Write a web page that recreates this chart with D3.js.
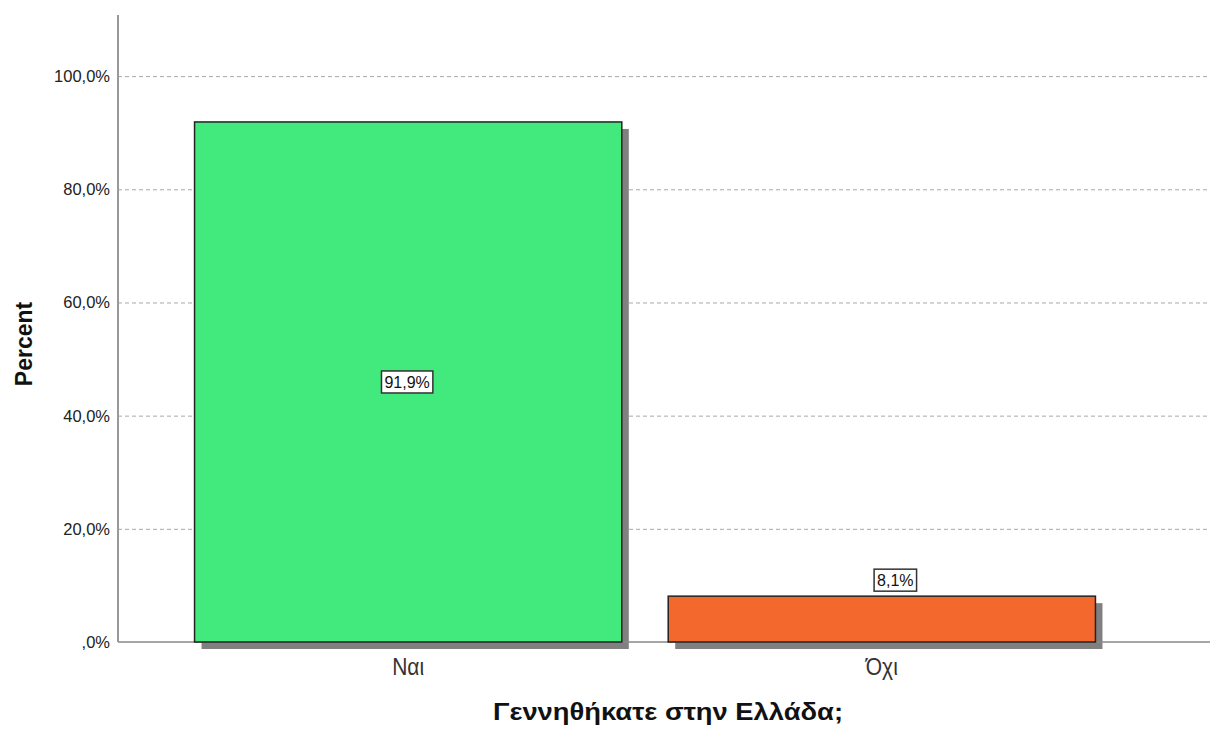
<!DOCTYPE html>
<html>
<head>
<meta charset="utf-8">
<script src="https://cdn.jsdelivr.net/npm/d3@7"></script>
<style>
html,body{margin:0;padding:0;background:#fff;}
svg{display:block;}
</style>
</head>
<body>
<svg id="chart" width="1221" height="729"></svg>
<script>
const categories = ["Ναι", "Όχι"];
const percents = [91.9, 8.1];
const barColors = ["#42ea7e", "#f3682c"];
const yTicks = [0, 20, 40, 60, 80, 100];
const xTitle = "Γεννηθήκατε στην Ελλάδα;";
const yTitle = "Percent";

const svg = d3.select("#chart");
const axisX = 118, baseY = 642, topY = 15, rightX = 1210;
const FONT = "Arial, 'Liberation Sans', sans-serif";

const x = d3.scaleBand().domain(categories).range([118, 1172]).paddingInner(0.098).paddingOuter(0.1616);
const y = d3.scaleLinear().domain([0, 110.8]).range([baseY, topY]);

const fmt = v => v === 0 ? ",0%" : v.toFixed(1).replace(".", ",") + "%";

// gridlines
svg.append("g").selectAll("line").data(yTicks.filter(d => d > 0)).join("line")
  .attr("x1", axisX).attr("x2", rightX)
  .attr("y1", d => y(d) + 0.5).attr("y2", d => y(d) + 0.5)
  .attr("stroke", "#a8a8a8").attr("stroke-width", 1).attr("stroke-dasharray", "4,3");

// y tick labels
svg.append("g").selectAll("text").data(yTicks).join("text")
  .attr("x", 110).attr("y", d => y(d)).attr("dy", "0.36em")
  .attr("text-anchor", "end")
  .attr("font-family", FONT).attr("font-size", 16.5)
  .attr("fill", "#222").text(fmt);

const data = categories.map((c, i) => ({c, v: percents[i], color: barColors[i]}));

// shadows
svg.append("g").selectAll("rect").data(data).join("rect")
  .attr("x", d => x(d.c) + 7).attr("y", d => y(d.v) + 7)
  .attr("width", x.bandwidth()).attr("height", d => baseY - y(d.v))
  .attr("fill", "#808080");

// axes lines
svg.append("line").attr("x1", axisX).attr("x2", rightX).attr("y1", baseY).attr("y2", baseY)
  .attr("stroke", "#888").attr("stroke-width", 1.5);
svg.append("line").attr("x1", axisX).attr("x2", axisX).attr("y1", topY).attr("y2", baseY)
  .attr("stroke", "#999").attr("stroke-width", 2);

// bars
svg.append("g").selectAll("rect").data(data).join("rect")
  .attr("x", d => x(d.c)).attr("y", d => y(d.v))
  .attr("width", x.bandwidth()).attr("height", d => baseY - y(d.v))
  .attr("fill", d => d.color).attr("stroke", "#222").attr("stroke-width", 1.5);

// value labels
const lab = svg.append("g");
data.forEach(d => {
  const t = fmt(d.v);
  const bh = baseY - y(d.v);
  const inside = bh > 80;
  const cx = x(d.c) + x.bandwidth() / 2 + (inside ? -1 : 13.5);
  const cy = inside ? (y(d.v) + baseY) / 2 : y(d.v) - 16;
  const txt = lab.append("text").attr("x", cx).attr("y", cy).attr("dy", "0.36em")
    .attr("text-anchor", "middle")
    .attr("font-family", FONT).attr("font-size", 16)
    .attr("fill", "#111").text(t);
  const bb = txt.node().getBBox();
  lab.insert("rect", "text").attr("x", bb.x - 3).attr("y", cy - 11).attr("width", bb.width + 6).attr("height", 22)
    .attr("fill", "#fff").attr("stroke", "#333").attr("stroke-width", 1.5);
});

// x category labels
svg.append("g").selectAll("text").data(categories).join("text")
  .attr("x", d => x(d) + x.bandwidth() / 2).attr("y", 675)
  .attr("text-anchor", "middle")
  .attr("font-family", FONT).attr("font-size", 23)
  .attr("textLength", 32).attr("lengthAdjust", "spacingAndGlyphs")
  .attr("fill", "#333").text(d => d);

// axis titles
svg.append("text").attr("x", 668).attr("y", 720).attr("text-anchor", "middle")
  .attr("font-family", FONT).attr("font-size", 24).attr("font-weight", "bold")
  .attr("textLength", 350).attr("lengthAdjust", "spacingAndGlyphs")
  .attr("fill", "#111").text(xTitle);
svg.append("text").attr("transform", "translate(32,344) rotate(-90)").attr("text-anchor", "middle")
  .attr("font-family", FONT).attr("font-size", 23).attr("font-weight", "bold")
  .attr("fill", "#111").text(yTitle);
</script>
</body>
</html>
